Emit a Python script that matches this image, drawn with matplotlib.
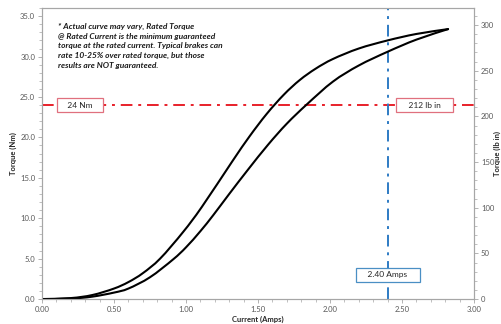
import matplotlib
matplotlib.use("Agg")
import matplotlib.pyplot as plt
import numpy as np
from matplotlib.path import Path
from matplotlib.patches import PathPatch
from matplotlib.ticker import MultipleLocator, FormatStrFormatter

# Data
upper_x = [0.00, 0.20, 0.35, 0.50, 0.60, 0.70, 0.82, 0.98, 1.11, 1.32, 1.44, 1.56, 1.68, 1.79, 1.90, 2.02, 2.20, 2.40, 2.60, 2.82]
upper_y = [0.00, 0.12, 0.50, 1.30, 2.10, 3.20, 5.00, 8.30, 11.4, 17.0, 20.1, 22.9, 25.3, 27.1, 28.5, 29.7, 31.0, 32.0, 32.8, 33.4]
lower_x = [0.00, 0.20, 0.35, 0.50, 0.60, 0.75, 0.91, 1.00, 1.10, 1.19, 1.30, 1.43, 1.57, 1.70, 1.84, 2.02, 2.20, 2.40, 2.60, 2.82]
lower_y = [0.00, 0.05, 0.30, 0.80, 1.30, 2.70, 4.90, 6.40, 8.40, 10.4, 13.0, 16.0, 19.1, 21.7, 24.1, 26.9, 28.9, 30.6, 32.1, 33.4]

rated_torque_nm = 24.0
rated_torque_lbin = 212
rated_current = 2.40
nm_to_lbin = 8.85

x_ticks = [0.00, 0.50, 1.00, 1.50, 2.00, 2.50, 3.00]
y_ticks = [0.0, 5.0, 10.0, 15.0, 20.0, 25.0, 30.0, 35.0]
y2_ticks = [0, 50, 100, 150, 200, 250, 300]

note = ("* Actual curve may vary, Rated Torque\n"
        "@ Rated Current is the minimum guaranteed\n"
        "torque at the rated current. Typical brakes can\n"
        "rate 10-25% over rated torque, but those\n"
        "results are NOT guaranteed.")


def smooth_path(xs, ys):
    """Excel-like smoothed line through the data points (cubic Bezier segments)."""
    p = np.column_stack([xs, ys]).astype(float)
    n = len(p)
    verts = [p[0]]
    codes = [Path.MOVETO]
    for i in range(n - 1):
        p0 = p[i - 1] if i > 0 else p[i]
        p1 = p[i]
        p2 = p[i + 1]
        p3 = p[i + 2] if i + 2 < n else p[i + 1]
        c1 = p1 + (p2 - p0) / 6.0
        c2 = p2 - (p3 - p1) / 6.0
        verts += [c1, c2, p2]
        codes += [Path.CURVE4] * 3
    return Path(verts, codes)


plt.rcParams['font.family'] = ['Lato', 'DejaVu Sans']
gray = '#595959'
spine_c = '#a6a6a6'

fig = plt.figure(figsize=(5.02, 3.24), dpi=100)
ax = fig.add_axes([0.0837, 0.077, 0.8605, 0.898])

for xs, ys in ((upper_x, upper_y), (lower_x, lower_y)):
    ax.add_patch(PathPatch(smooth_path(xs, ys), fill=False, ec='black', lw=1.5,
                           capstyle='round', joinstyle='round', zorder=3))

ax.axhline(rated_torque_nm, color='#e8202a', lw=1.4, linestyle=(0, (6, 3, 1.5, 3)), zorder=2)
ax.axvline(rated_current, color='#2e7bc4', lw=1.4, linestyle=(0, (6, 3, 1.5, 3)), zorder=2)

ax.set_xlim(0, 3.0)
ax.set_ylim(0, 36)
ax.set_xticks(x_ticks)
ax.set_yticks(y_ticks)
ax.xaxis.set_major_formatter(FormatStrFormatter('%.2f'))
ax.yaxis.set_major_formatter(FormatStrFormatter('%.1f'))
ax.xaxis.set_minor_locator(MultipleLocator(0.1))
ax.yaxis.set_minor_locator(MultipleLocator(1.0))

ax2 = ax.twinx()
ax2.set_ylim(0, 36 * nm_to_lbin)
ax2.set_yticks(y2_ticks)
ax2.yaxis.set_minor_locator(MultipleLocator(10))

for a in (ax, ax2):
    for s in a.spines.values():
        s.set_color(spine_c)
        s.set_linewidth(0.8)
    a.tick_params(which='major', direction='out', length=3, width=0.6, color=spine_c,
                  labelsize=5.5, labelcolor=gray, pad=2)
    a.tick_params(which='minor', direction='out', length=2, width=0.5, color=spine_c)

ax.set_xlabel('Current (Amps)', fontsize=5.5, fontweight='bold', color='#262626', labelpad=2)
ax.set_ylabel('Torque (Nm)', fontsize=5.5, fontweight='bold', color='#262626', labelpad=2)
fig.text(497 / 502, 1 - 153 / 324, 'Torque (lb in)', rotation=90, fontsize=5.5,
         fontweight='bold', color='#262626', ha='center', va='center')

ax.text(0.037, 0.948, note, transform=ax.transAxes, fontsize=6.0, fontweight='bold',
        style='italic', va='top', ha='left', linespacing=1.42, color='#1a1a1a')

ax.text(0.264, rated_torque_nm, f'   {rated_torque_nm:.0f} Nm   ', fontsize=6, color='#262626',
        ha='center', va='center', zorder=4,
        bbox=dict(boxstyle='square,pad=0.45', fc='white', ec='#e0707e', lw=0.9))
ax.text(2.656, rated_torque_nm, f'    {rated_torque_lbin} lb in    ', fontsize=6, color='#262626',
        ha='center', va='center', zorder=4,
        bbox=dict(boxstyle='square,pad=0.45', fc='white', ec='#e0707e', lw=0.9))
ax.text(rated_current, 3.0, f'    {rated_current:.2f} Amps    ', fontsize=6, color='#262626',
        ha='center', va='center', zorder=4,
        bbox=dict(boxstyle='square,pad=0.45', fc='white', ec='#4a8fc4', lw=0.9))

fig.savefig('out.png', dpi=100)
